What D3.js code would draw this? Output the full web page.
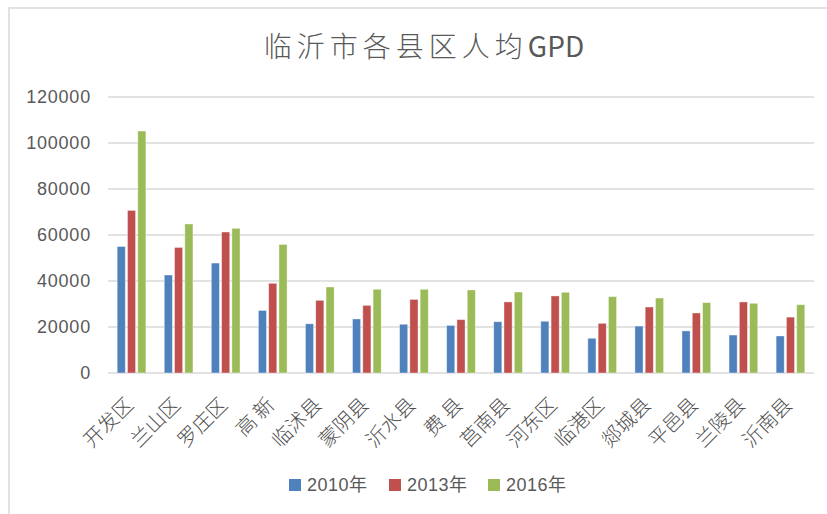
<!DOCTYPE html>
<html>
<head>
<meta charset="utf-8">
<script src="https://cdn.jsdelivr.net/npm/d3@7"></script>
<style>
  body { margin: 0; background: #fff; }
  svg { display: block; }
</style>
</head>
<body>
<div id="chart"></div>
<script>
// 数据
const categories = ['开发区', '兰山区', '罗庄区', '高 新', '临沭县', '蒙阴县', '沂水县', '费 县',
  '莒南县', '河东区', '临港区', '郯城县', '平邑县', '兰陵县', '沂南县'];
const seriesNames = ['2010年', '2013年', '2016年'];
const v2010 = [55000, 42600, 47800, 27200, 21400, 23500, 21200, 20700, 22300, 22500, 15100, 20400, 18300, 16500, 16100];
const v2013 = [70700, 54600, 61300, 39000, 31600, 29400, 32000, 23200, 30900, 33500, 21600, 28700, 26100, 30900, 24300];
const v2016 = [105200, 64800, 62900, 55900, 37400, 36400, 36400, 36100, 35200, 35100, 33200, 32600, 30600, 30300, 29700];
const yTicks = [0, 20000, 40000, 60000, 80000, 100000, 120000];
const colors = ['#4F81BD', '#C0504D', '#9BBB59'];

const width = 827, height = 514;
const textColor = '#595959';

const svg = d3.select('#chart').append('svg')
  .attr('width', width)
  .attr('height', height);

// 图表边框
svg.append('rect')
  .attr('x', 9).attr('y', 8)
  .attr('width', 840).attr('height', 530)
  .attr('fill', 'none')
  .attr('stroke', '#d9d9d9')
  .attr('stroke-width', 1.5);

// 标题
const title = svg.append('text')
  .attr('x', 424)
  .attr('y', 57)
  .attr('text-anchor', 'middle')
  .style('font-family', '"Noto Sans CJK SC", sans-serif')
  .style('font-weight', 300)
  .style('font-size', '28px')
  .attr('fill', textColor);
title.append('tspan').style('letter-spacing', '5px').text('临沂市各县区人均');
title.append('tspan').style('font-weight', 400).text('GPD');

// 比例尺
const x0 = d3.scaleBand()
  .domain(categories)
  .range([108, 814])
  .paddingInner(0.39)
  .paddingOuter(0.195);

const x1 = d3.scaleBand()
  .domain(seriesNames)
  .range([0, x0.bandwidth()])
  .paddingInner(0.21);

const y = d3.scaleLinear()
  .domain([0, 120000])
  .range([373, 97]);

// 网格线
svg.append('g')
  .selectAll('line')
  .data(yTicks)
  .enter()
  .append('line')
  .attr('x1', 108).attr('x2', 814)
  .attr('y1', d => y(d)).attr('y2', d => y(d))
  .attr('stroke', '#d9d9d9')
  .attr('stroke-width', 1.5);

// y轴
const yAxis = svg.append('g')
  .attr('transform', 'translate(91,0)')
  .call(d3.axisLeft(y).tickValues(yTicks).tickSize(0).tickPadding(0).tickFormat(d3.format('d')));
yAxis.select('.domain').remove();
yAxis.selectAll('text')
  .attr('fill', textColor)
  .style('font-family', '"Liberation Sans", Arial, sans-serif')
  .style('font-size', '18px')
  .style('letter-spacing', '0.8px');

// 柱子
const series = [v2010, v2013, v2016];
const groups = svg.append('g')
  .selectAll('g')
  .data(categories)
  .enter()
  .append('g')
  .attr('transform', d => `translate(${x0(d)},0)`);

groups.selectAll('rect')
  .data((d, i) => seriesNames.map((s, j) => ({ s, j, v: series[j][i] })))
  .enter()
  .append('rect')
  .attr('x', d => x1(d.s))
  .attr('y', d => y(d.v))
  .attr('width', x1.bandwidth())
  .attr('height', d => y(0) - y(d.v))
  .attr('fill', d => colors[d.j])
  .attr('stroke', '#ffffff')
  .attr('stroke-opacity', 0.5)
  .attr('stroke-width', 0.8);

// x轴标签
const xAxis = svg.append('g')
  .attr('transform', 'translate(0,373)')
  .call(d3.axisBottom(x0).tickSize(0).tickPadding(0));
xAxis.select('.domain').remove();
xAxis.selectAll('text')
  .attr('fill', '#505050')
  .attr('text-anchor', 'end')
  .attr('dy', null)
  .attr('y', 0)
  .attr('transform', 'translate(3,33) rotate(-45)')
  .style('font-family', '"Noto Sans CJK SC", sans-serif')
  .style('font-weight', 300)
  .style('font-size', '20px');

// 图例
const legendX = [289, 389, 488];
const legend = svg.append('g')
  .selectAll('g')
  .data(seriesNames)
  .enter()
  .append('g')
  .attr('transform', (d, i) => `translate(${legendX[i]},479)`);

legend.append('rect')
  .attr('width', 12).attr('height', 12)
  .attr('fill', (d, i) => colors[i]);

legend.append('text')
  .attr('x', 18)
  .attr('y', 12)
  .attr('fill', textColor)
  .style('font-family', '"Liberation Sans", Arial, "Noto Sans CJK SC", sans-serif')
  .style('font-size', '18px')
  .style('letter-spacing', '0.5px')
  .text(d => d);
</script>
</body>
</html>
